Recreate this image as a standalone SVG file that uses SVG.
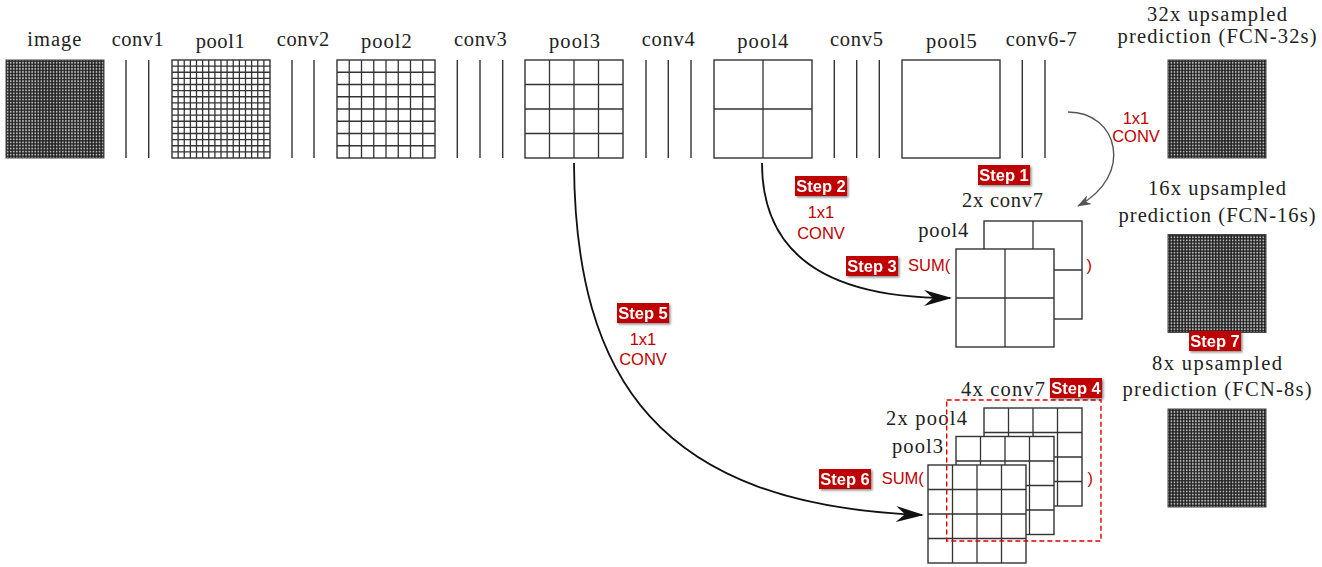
<svg xmlns="http://www.w3.org/2000/svg" width="1322" height="567" viewBox="0 0 1322 567">
<style>
.lbl{font-family:"Liberation Serif","Times New Roman",serif;font-size:20.5px;fill:#222}
.red{font-family:"Liberation Sans",Arial,sans-serif;font-size:16.5px;fill:#c00000}
.badge rect{fill:#c00000}
.badge text{font-family:"Liberation Sans",Arial,sans-serif;font-size:16.5px;font-weight:bold;fill:#fff;text-anchor:middle}
.sq{fill:#fff;stroke:#333;stroke-width:1.4}
.grid{fill:none;stroke:#333;stroke-width:1.3}
.ln{stroke:#333;stroke-width:1.4}
.dense{fill:url(#fine);stroke:#444;stroke-width:1}
.conn{fill:none;stroke:#111;stroke-width:1.8}
.conn-g{fill:none;stroke:#555;stroke-width:1.4}
</style>
<defs>
<pattern id="fine" patternUnits="userSpaceOnUse" width="3.0625" height="3.0625">
<rect width="3.0625" height="3.0625" fill="#b4b4b4"/>
<path d="M0 0V3.0625M3.0625 0V3.0625M0 0H3.0625M0 3.0625H3.0625" stroke="#1a1a1a" stroke-width="1.3"/>
</pattern>
<marker id="stealth" markerUnits="userSpaceOnUse" viewBox="0 0 28 16" markerWidth="28" markerHeight="16" refX="26" refY="8" orient="auto">
<path d="M0 0L28 8L0 16L9 8Z" fill="#111"/>
</marker>
<marker id="arrowG" markerUnits="userSpaceOnUse" viewBox="0 0 14 10" markerWidth="14" markerHeight="10" refX="13" refY="5" orient="auto">
<path d="M0 0L14 5L0 10L4 5Z" fill="#555"/>
</marker>
<filter id="sh" x="-20%" y="-30%" width="150%" height="170%">
<feDropShadow dx="1.5" dy="1.5" stdDeviation="1.2" flood-color="#000" flood-opacity="0.45"/>
</filter>
</defs>
<rect width="1322" height="567" fill="#fff"/>

<!-- top row -->
<g id="image">
<text class="lbl" x="27.3" y="46" textLength="54" lengthAdjust="spacing">image</text>
<rect class="dense" x="6" y="60" width="98" height="98"/>
</g>
<g id="conv1">
<text class="lbl" x="111.7" y="45.5" textLength="52" lengthAdjust="spacing">conv1</text>
<path class="ln" d="M126 60V158M148.7 60V158"/>
</g>
<g id="pool1">
<text class="lbl" x="195.7" y="47.5" textLength="49" lengthAdjust="spacing">pool1</text>
<rect class="sq" x="172" y="60" width="98" height="98"/>
<path class="grid" d="M178.125 60V158M184.25 60V158M190.375 60V158M196.5 60V158M202.625 60V158M208.75 60V158M214.875 60V158M221 60V158M227.125 60V158M233.25 60V158M239.375 60V158M245.5 60V158M251.625 60V158M257.75 60V158M263.875 60V158M172 66.125H270M172 72.25H270M172 78.375H270M172 84.5H270M172 90.625H270M172 96.75H270M172 102.875H270M172 109H270M172 115.125H270M172 121.25H270M172 127.375H270M172 133.5H270M172 139.625H270M172 145.75H270M172 151.875H270"/>
</g>
<g id="conv2">
<text class="lbl" x="276.7" y="45.5" textLength="52.6" lengthAdjust="spacing">conv2</text>
<path class="ln" d="M292 60V158M314 60V158"/>
</g>
<g id="pool2">
<text class="lbl" x="361" y="47.5" textLength="50.7" lengthAdjust="spacing">pool2</text>
<rect class="sq" x="337" y="60" width="98" height="98"/>
<path class="grid" d="M349.25 60V158M361.5 60V158M373.75 60V158M386 60V158M398.25 60V158M410.5 60V158M422.75 60V158M337 72.25H435M337 84.5H435M337 96.75H435M337 109H435M337 121.25H435M337 133.5H435M337 145.75H435"/>
</g>
<g id="conv3">
<text class="lbl" x="454" y="45.5" textLength="52.7" lengthAdjust="spacing">conv3</text>
<path class="ln" d="M457.3 60V158M480 60V158M502.7 60V158"/>
</g>
<g id="pool3">
<text class="lbl" x="549" y="47.5" textLength="51" lengthAdjust="spacing">pool3</text>
<rect class="sq" x="525" y="60" width="98" height="98"/>
<path class="grid" d="M549.5 60V158M574 60V158M598.5 60V158M525 84.5H623M525 109H623M525 133.5H623"/>
</g>
<g id="conv4">
<text class="lbl" x="641.7" y="45.5" textLength="53" lengthAdjust="spacing">conv4</text>
<path class="ln" d="M646 60V158M668.3 60V158M691 60V158"/>
</g>
<g id="pool4">
<text class="lbl" x="737.3" y="47.5" textLength="51" lengthAdjust="spacing">pool4</text>
<rect class="sq" x="714" y="60" width="98" height="98"/>
<path class="grid" d="M763 60V158M714 109H812"/>
</g>
<g id="conv5">
<text class="lbl" x="830" y="45.5" textLength="53" lengthAdjust="spacing">conv5</text>
<path class="ln" d="M834.3 60V158M856.7 60V158M879.3 60V158"/>
</g>
<g id="pool5">
<text class="lbl" x="926" y="47.5" textLength="50.7" lengthAdjust="spacing">pool5</text>
<rect class="sq" x="902" y="60" width="98" height="98"/>
</g>
<g id="conv6-7">
<text class="lbl" x="1005.7" y="45.5" textLength="71" lengthAdjust="spacing">conv6-7</text>
<path class="ln" d="M1022.3 60V158M1045 60V158"/>
</g>

<!-- predictions -->
<g id="fcn32">
<text class="lbl" x="1217" y="21" text-anchor="middle" textLength="140" lengthAdjust="spacing">32x upsampled</text>
<text class="lbl" x="1217" y="43" text-anchor="middle" textLength="199" lengthAdjust="spacing">prediction (FCN-32s)</text>
<rect class="dense" x="1168" y="60" width="98" height="98"/>
</g>
<g id="fcn16">
<text class="lbl" x="1217" y="195" text-anchor="middle" textLength="138" lengthAdjust="spacing">16x upsampled</text>
<text class="lbl" x="1217" y="222" text-anchor="middle" textLength="197" lengthAdjust="spacing">prediction (FCN-16s)</text>
<rect class="dense" x="1168" y="234.5" width="98" height="98"/>
</g>
<g id="fcn8">
<text class="lbl" x="1217" y="369.5" text-anchor="middle" textLength="130" lengthAdjust="spacing">8x upsampled</text>
<text class="lbl" x="1217" y="396" text-anchor="middle" textLength="189" lengthAdjust="spacing">prediction (FCN-8s)</text>
<rect class="dense" x="1168" y="409" width="98" height="98"/>
</g>

<!-- step 3 sum -->
<g id="sum16">
<text class="lbl" x="962" y="207" textLength="81" lengthAdjust="spacing">2x conv7</text>
<text class="lbl" x="918.3" y="236.5" textLength="50" lengthAdjust="spacing">pool4</text>
<rect class="sq" x="984" y="221" width="98" height="98"/>
<path class="grid" d="M1033 221V319M984 270H1082"/>
<rect class="sq" x="956" y="249" width="98" height="98"/>
<path class="grid" d="M1005 249V347M956 298H1054"/>
<text class="red" x="908" y="271">SUM(</text>
<text class="red" x="1086.5" y="271">)</text>
</g>

<!-- step 6 sum -->
<g id="sum8">
<text class="lbl" x="961" y="396" textLength="84" lengthAdjust="spacing">4x conv7</text>
<text class="lbl" x="886" y="425" textLength="81" lengthAdjust="spacing">2x pool4</text>
<text class="lbl" x="892" y="453" textLength="51" lengthAdjust="spacing">pool3</text>
<rect class="sq" x="984" y="408" width="98" height="98"/>
<path class="grid" d="M1008.5 408V506M1033 408V506M1057.5 408V506M984 432.5H1082M984 457H1082M984 481.5H1082"/>
<rect class="sq" x="956" y="436.5" width="98" height="98"/>
<path class="grid" d="M980.5 436.5V534.5M1005 436.5V534.5M1029.5 436.5V534.5M956 461H1054M956 485.5H1054M956 510H1054"/>
<rect class="sq" x="928" y="465" width="98" height="98"/>
<path class="grid" d="M952.5 465V563M977 465V563M1001.5 465V563M928 489.5H1026M928 514H1026M928 538.5H1026"/>
<rect x="946.7" y="400" width="154.3" height="141" fill="none" stroke="#e00000" stroke-width="1.4" stroke-dasharray="5 3"/>
<text class="red" x="881.7" y="484">SUM(</text>
<text class="red" x="1087.5" y="484">)</text>
</g>

<!-- connectors -->
<g id="connectors">
<path class="conn-g" d="M1068 112C1118 112 1135 175 1078 206" marker-end="url(#arrowG)"/>
<path class="conn" d="M762 163C762 250 820 298 950 298" marker-end="url(#stealth)"/>
<path class="conn" d="M574 163C575 380 660 505 922 515" marker-end="url(#stealth)"/>
</g>

<!-- annotations -->
<g id="conv1x1-labels">
<text class="red" x="1136" y="124" text-anchor="middle">1x1</text>
<text class="red" x="1136" y="142" text-anchor="middle">CONV</text>
<text class="red" x="821" y="218" text-anchor="middle">1x1</text>
<text class="red" x="821" y="239" text-anchor="middle">CONV</text>
<text class="red" x="643" y="345" text-anchor="middle">1x1</text>
<text class="red" x="643" y="365" text-anchor="middle">CONV</text>
</g>
<g id="steps" class="badge">
<g id="step1" filter="url(#sh)"><rect x="978" y="165" width="52" height="20"/><text x="1004" y="181">Step 1</text></g>
<g id="step2" filter="url(#sh)"><rect x="795" y="176" width="52" height="20"/><text x="821" y="192">Step 2</text></g>
<g id="step3" filter="url(#sh)"><rect x="846" y="256" width="52" height="20"/><text x="872" y="272">Step 3</text></g>
<g id="step4" filter="url(#sh)"><rect x="1050" y="378" width="52" height="20"/><text x="1076" y="394">Step 4</text></g>
<g id="step5" filter="url(#sh)"><rect x="617" y="303" width="52" height="20"/><text x="643" y="319">Step 5</text></g>
<g id="step6" filter="url(#sh)"><rect x="819" y="469" width="52" height="20"/><text x="845" y="485">Step 6</text></g>
<g id="step7" filter="url(#sh)"><rect x="1189" y="331" width="52" height="20"/><text x="1215" y="347">Step 7</text></g>
</g>
</svg>
